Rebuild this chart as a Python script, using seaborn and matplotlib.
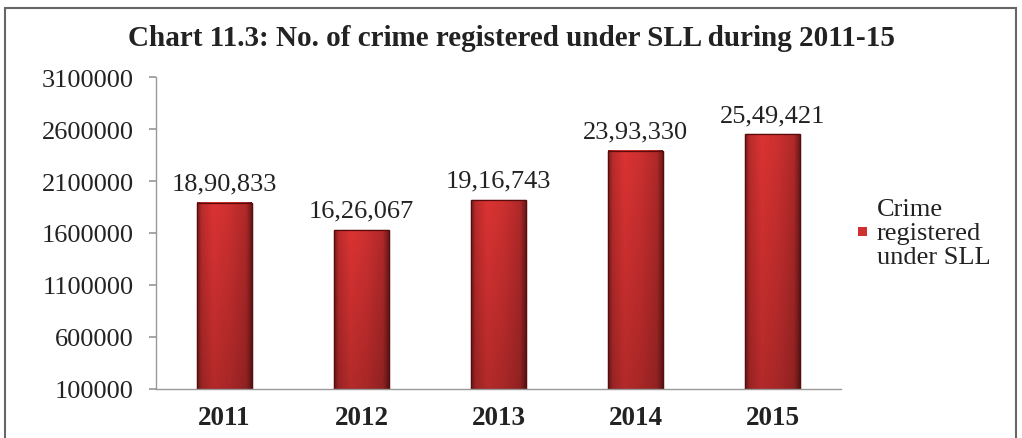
import matplotlib
matplotlib.use("Agg")
import matplotlib.pyplot as plt
import seaborn as sns
import pandas as pd
import numpy as np
from matplotlib.patches import Rectangle

years = ["2011", "2012", "2013", "2014", "2015"]
values = [1890833, 1626067, 1916743, 2393330, 2549421]
value_labels = ["18,90,833", "16,26,067", "19,16,743", "23,93,330", "25,49,421"]
yticks = [100000, 600000, 1100000, 1600000, 2100000, 2600000, 3100000]
series_name = "Crime\nregistered\nunder SLL"
title = "Chart 11.3: No. of crime registered under SLL during 2011-15"

sns.set_theme(style="white")
plt.rcParams['font.family'] = ['Liberation Serif', 'DejaVu Serif']

df = pd.DataFrame({"year": years, "value": values})

fig = plt.figure(figsize=(10.22, 4.39), dpi=100)
ax = fig.add_axes([156 / 1022, 0.112, 685 / 1022, 0.71])
sns.barplot(data=df, x="year", y="value", color="#c8282a", width=0.40,
            edgecolor="#5a0c0c", linewidth=0.9, ax=ax, saturation=1)

ymin, ymax = yticks[0], yticks[-1]
ax.set_ylim(ymin, ymax)

# gradient shading inside each bar (clipped to visible bar area)
xs = np.linspace(0, 1, 64)
prof = np.interp(xs, [0, 0.08, 0.3, 0.6, 0.9, 1.0], [0.55, 0.85, 1.0, 0.93, 0.8, 0.5])
ys = np.linspace(0, 1, 64)
vprof = np.interp(ys, [0, 1], [0.82, 1.0])  # bottom darker
base = np.array([0.86, 0.2, 0.2])
img = (prof[None, :, None] * vprof[:, None, None]) * base[None, None, :]
img = np.clip(img, 0, 1)
for p in list(ax.patches):
    x0, w = p.get_x(), p.get_width()
    y0 = max(p.get_y(), ymin)
    y1 = p.get_y() + p.get_height()
    ax.imshow(img, extent=(x0, x0 + w, y0, y1), origin="lower",
              aspect="auto", zorder=p.get_zorder() + 0.1, interpolation="bilinear")
    ax.add_patch(Rectangle((x0, y0), w, y1 - y0, facecolor="none", edgecolor="#5a0c0c",
                           linewidth=0.9, zorder=p.get_zorder() + 0.2))

ax.set_yticks(yticks)
ax.set_yticklabels([str(t) for t in yticks], fontsize=19, color="#222222")
ax.set_xlim(-0.5, 4.5)
ax.set_xticks(range(len(years)))
ax.set_xticklabels(years, fontsize=19.5, fontweight="bold", color="#222222")
ax.tick_params(axis="x", length=0, pad=12)
ax.set_xticks([i + 0.5 for i in range(-1, len(years))], minor=True)
ax.tick_params(axis="x", which="minor", length=5, color="#999999", direction="out")
ax.tick_params(axis="y", length=5, color="#999999", direction="out", left=True, pad=11)
ax.set_xlabel("")
ax.set_ylabel("")
for s in ["top", "right"]:
    ax.spines[s].set_visible(False)
for s in ["left", "bottom"]:
    ax.spines[s].set_color("#999999")
    ax.spines[s].set_linewidth(1.0)
    ax.spines[s].set_zorder(5)

for i, (v, lab) in enumerate(zip(values, value_labels)):
    ax.annotate(lab, (i, v), xytext=(0, 6), textcoords="offset points",
                ha="center", va="bottom", fontsize=19, color="#222222")

fig.text(0.5, 1 - 38 / 439, title, ha="center", va="center", fontsize=21,
         fontweight="bold", color="#222222")

# legend
fig.patches.append(Rectangle((858 / 1022, 1 - 237 / 439), 9 / 1022, 9 / 439,
                             transform=fig.transFigure, facecolor="#d03030",
                             edgecolor="none", figure=fig))
fig.text(877 / 1022, 1 - 234 / 439, series_name, ha="left", va="center",
         fontsize=19, color="#222222", linespacing=1.1)

# outer frame
fig.patches.append(Rectangle((5 / 1022, -0.05), 1011 / 1022, 1.05 - 9 / 439,
                             transform=fig.transFigure, facecolor="none",
                             edgecolor="#666666", linewidth=1.5, figure=fig))

fig.savefig("out.png", dpi=100)
